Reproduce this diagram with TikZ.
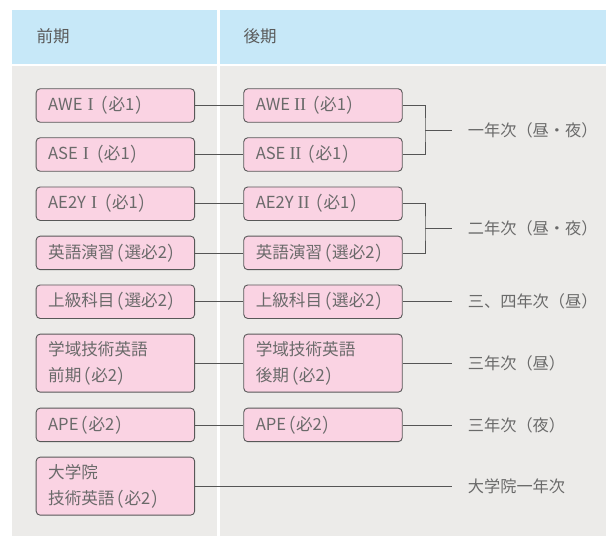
\documentclass[tikz,border=0pt]{standalone}
\usepackage{fontspec}
\usepackage{graphicx}
\setmainfont{Noto Sans CJK JP}
\newfontfamily\pfont[RawFeature=+palt]{Noto Sans CJK JP}
\newfontfamily\serifrm[Scale=1.1]{Liberation Serif}
\usetikzlibrary{calc}
\definecolor{hdrblue}{HTML}{C7E8F8}
\definecolor{bodygray}{HTML}{ECEBE9}
\definecolor{boxfill}{HTML}{FAD3E3}
\definecolor{boxline}{HTML}{585858}
\definecolor{txtgray}{HTML}{6A6A6A}
\definecolor{linegray}{HTML}{555555}
\newcommand\rI{\makebox[16pt][c]{\serifrm I}}
\newcommand\rII{\makebox[20pt][c]{\serifrm I\kern-0.2pt I}}
\newcommand\lp{\makebox[10pt][c]{\raisebox{-2pt}{\scalebox{1}[1.15]{\pfont （}}}}
\newcommand\rp{\makebox[11pt][c]{\raisebox{-2pt}{\scalebox{1}[1.15]{\pfont ）}}}}
\tikzset{
  cbox/.style={draw=boxline, fill=boxfill, rounded corners=4pt, line width=0.9pt,
    anchor=north west, minimum width=158.5pt, text width=134.5pt, inner xsep=12pt,
    inner ysep=0pt, align=left, text=txtgray, font=\fontsize{16.6}{25.6}\selectfont},
  single/.style={minimum height=33.5pt},
  double/.style={minimum height=58pt},
  lab/.style={anchor=west, inner xsep=16pt, inner ysep=0pt, text=txtgray, font=\fontsize{16.2}{19}\selectfont},
  hdr/.style={anchor=west, inner sep=0pt, text=txtgray!85!black, font=\fontsize{16.5}{19}\selectfont},
  conn/.style={draw=linegray, line width=0.8pt}
}
\begin{document}
\begin{tikzpicture}[x=1pt,y=-1pt]
\useasboundingbox (0,0) rectangle (606,536);
\fill[white] (0,0) rectangle (606,536);
% header and body panels
\fill[hdrblue] (11.6,10) rectangle (217.3,63.5);
\fill[hdrblue] (220.2,10) rectangle (606,63.5);
\fill[bodygray] (11.6,65.5) rectangle (217.3,536);
\fill[bodygray] (220.2,65.5) rectangle (606,536);
\node[hdr] (h1) at (36.5,36.5) {前期};
\node[hdr] (h2) at (243.5,36.5) {後期};
% left column
\node[cbox,single] (L1) at (35.7,88.3) {AWE\rI\lp 必1\rp};
\node[cbox,single] (L2) at (35.7,137.3) {ASE\rI\lp 必1\rp};
\node[cbox,single] (L3) at (35.7,186.5) {AE2Y\rI\lp 必1\rp};
\node[cbox,single] (L4) at (35.7,235.7) {英語演習\lp 選必2\rp};
\node[cbox,single] (L5) at (35.7,284.5) {上級科目\lp 選必2\rp};
\node[cbox,double] (L6) at (35.7,333.7) {学域技術英語\\前期\lp 必2\rp};
\node[cbox,single] (L7) at (35.7,407.7) {APE\lp 必2\rp};
\node[cbox,double] (L8) at (35.7,456.7) {大学院\\技術英語\lp 必2\rp};
% right column
\node[cbox,single] (R1) at (243.3,88.3) {AWE\rII\lp 必1\rp};
\node[cbox,single] (R2) at (243.3,137.3) {ASE\rII\lp 必1\rp};
\node[cbox,single] (R3) at (243.3,186.5) {AE2Y\rII\lp 必1\rp};
\node[cbox,single] (R4) at (243.3,235.7) {英語演習\lp 選必2\rp};
\node[cbox,single] (R5) at (243.3,284.5) {上級科目\lp 選必2\rp};
\node[cbox,double] (R6) at (243.3,333.7) {学域技術英語\\後期\lp 必2\rp};
\node[cbox,single] (R7) at (243.3,407.7) {APE\lp 必2\rp};
% helper x positions
\coordinate (bx) at (425,0);
\coordinate (ex) at (451.7,0);
% left-right connectors
\foreach \i in {1,...,7}{ \draw[conn] (L\i.east) -- (R\i.west); }
% brackets
\coordinate (c1) at ($(R1.east)!0.5!(R2.east)$);
\coordinate (c2) at ($(R3.east)!0.5!(R4.east)$);
\coordinate (m1) at (c1 -| bx);
\coordinate (m2) at (c2 -| bx);
\draw[conn] (R1.east) -| (m1) |- (R2.east);
\draw[conn] (R3.east) -| (m2) |- (R4.east);
% labels
\node[lab] (T1) at (m1 -| ex) {一年次（昼・夜）};
\node[lab] (T2) at (m2 -| ex) {二年次（昼・夜）};
\node[lab] (T3) at (R5.east -| ex) {三、四年次（昼）};
\node[lab] (T4) at (R6.east -| ex) {三年次（昼）};
\node[lab] (T5) at (R7.east -| ex) {三年次（夜）};
\node[lab] (T6) at (L8.east -| ex) {大学院一年次};
\draw[conn] (m1) -- (T1.west);
\draw[conn] (m2) -- (T2.west);
\draw[conn] (R5.east) -- (T3.west);
\draw[conn] (R6.east) -- (T4.west);
\draw[conn] (R7.east) -- (T5.west);
\draw[conn] (L8.east) -- (T6.west);
\end{tikzpicture}
\end{document}
